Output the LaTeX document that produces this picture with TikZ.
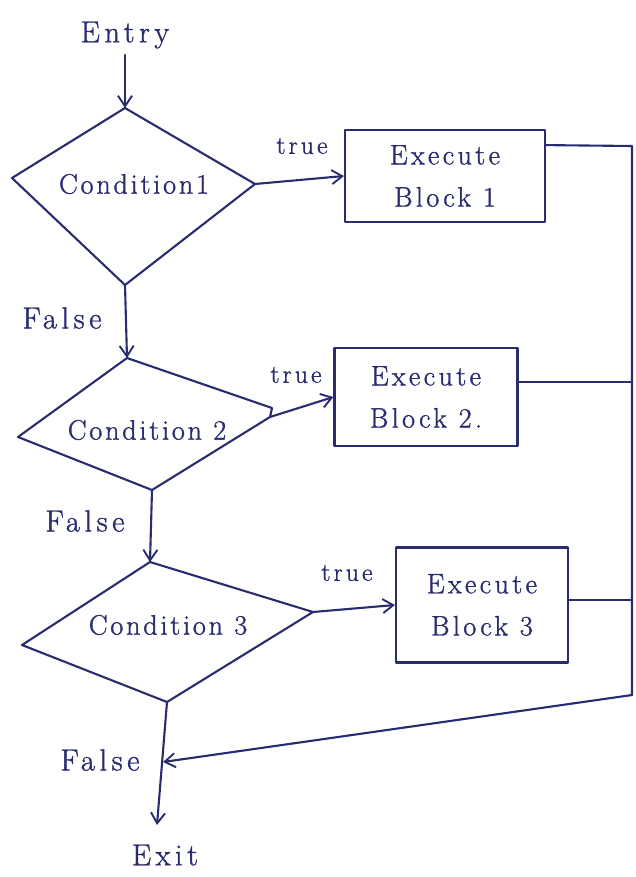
\documentclass[tikz,border=0pt]{standalone}
\usepackage{fontspec}
\setmainfont{Latin Modern Roman}[FakeBold=1.2]
\usetikzlibrary{arrows.meta}
\definecolor{ink}{RGB}{42,44,112}
\begin{document}
\begin{tikzpicture}[x=0.03cm,y=-0.03cm,
  inkline/.style={draw=ink, line width=1.8pt, line join=round, line cap=round},
  arr/.style={inkline, -{Straight Barb[length=9pt,width=12pt,line width=1.6pt]}},
  lbl/.style={text=ink, font=\fontsize{24}{28}\selectfont\addfontfeature{LetterSpace=10}, inner sep=1pt},
  word/.style={text=ink, font=\fontsize{26}{30}\selectfont\addfontfeature{LetterSpace=15}, inner sep=1pt},
  small/.style={text=ink, font=\fontsize{22}{26}\selectfont\addfontfeature{LetterSpace=12}, inner sep=1pt},
  blockbox/.style={inkline, align=center, text=ink,
    font=\fontsize{24}{36}\selectfont\addfontfeature{LetterSpace=12}}]
\useasboundingbox (0,0) rectangle (635,877);

% decision outlines
\coordinate (t1) at (125,108); \coordinate (r1) at (255,184);
\coordinate (b1) at (125,285); \coordinate (l1) at (12,178);
\coordinate (t2) at (127,358); \coordinate (r2) at (270,417);
\coordinate (b2) at (152,490); \coordinate (l2) at (18,437);
\coordinate (t3) at (150,562); \coordinate (r3) at (313,612);
\coordinate (b3) at (167,702); \coordinate (l3) at (22,645);
\draw[inkline] (t1) -- (r1) -- (b1) -- (l1) -- cycle;
\draw[inkline] (t2) -- (272,408) -- (r2) -- (b2) -- (l2) -- cycle;
\draw[inkline] (t3) -- (r3) -- (b3) -- (l3) -- cycle;
\node[lbl] (c1) at (134,184) {Condition1};
\node[lbl] (c2) at (147,430) {Condition 2};
\node[lbl] (c3) at (168,625) {Condition 3};

% action blocks
\node[blockbox, minimum width=6cm, minimum height=2.76cm] (x1) at (445,176) {Execute\\Block 1};
\node[blockbox, minimum width=5.49cm, minimum height=2.94cm] (x2) at (426,397) {Execute\\Block 2.};
\node[blockbox, minimum width=5.16cm, minimum height=3.45cm] (x3) at (482,605) {Execute\\Block 3};

% entry and exit
\node[word] (entry) at (125,35) {Entry};
\node[word] (exit) at (165,855) {Exit};
\coordinate (entryend) at (125,55);
\coordinate (exitend) at (157,825);
\coordinate (merge) at (163,762);

% flow
\draw[arr] (entryend) -- (t1);
\draw[arr] (r1) -- (x1.west);
\draw[arr] (b1) -- (t2);
\draw[arr] (r2) -- (x2.west);
\draw[arr] (b2) -- (t3);
\draw[arr] (r3) -- (x3.west);
\draw[arr] (b3) -- (exitend);

% return rail
\coordinate (railtop) at (632,146);
\coordinate (railbot) at (632,695);
\draw[inkline] (x1.17) -- (railtop) -- (railbot);
\draw[inkline] (x2.9) -- (x2.9 -| railtop);
\draw[inkline] (x3.3) -- (x3.3 -| railtop);
\draw[arr] (railbot) -- (merge);

% branch labels
\node[small] (tr1) at (302,146) {true};
\node[small] (tr2) at (296,375) {true};
\node[small] (tr3) at (347,573) {true};
\node[word] (f1) at (62,318) {False};
\node[word] (f2) at (85,521) {False};
\node[word] (f3) at (100,760) {False};
\end{tikzpicture}
\end{document}
